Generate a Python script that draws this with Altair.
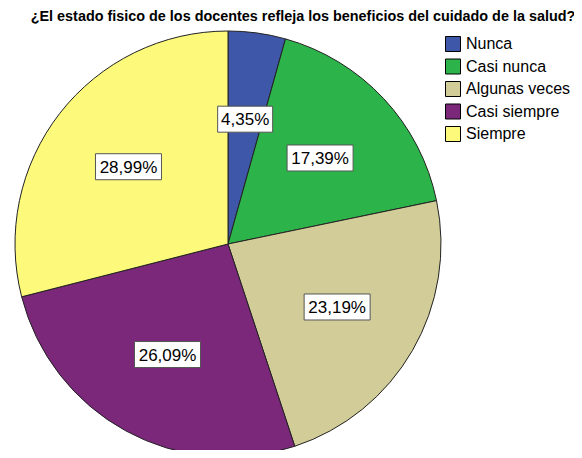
import altair as alt
import pandas as pd

categories = ["Nunca", "Casi nunca", "Algunas veces", "Casi siempre", "Siempre"]
percents = [4.35, 17.39, 23.19, 26.09, 28.99]
colors = ["#3F57A8", "#2CB34A", "#D2CD98", "#7B287B", "#FDF97B"]
title_text = "¿El estado fisico de los docentes refleja los beneficios del cuidado de la salud?"

df = pd.DataFrame({
    "cat": categories,
    "pct": percents,
    "order": list(range(len(categories))),
    "label": [f"{v:.2f}".replace(".", ",") + "%" for v in percents],
})

CX, CY, R, LR = 220, 236, 213, 126
FONT = "Liberation Sans"

base = alt.Chart(df)

pie = base.mark_arc(outerRadius=R, stroke="#222222", strokeWidth=1).encode(
    theta=alt.Theta("pct:Q", stack=True),
    order=alt.Order("order:Q", sort="ascending"),
    color=alt.Color(
        "cat:N",
        scale=alt.Scale(domain=categories, range=colors),
        sort=categories,
        legend=alt.Legend(
            title=None,
            orient="none",
            legendX=437,
            legendY=28,
            symbolType="square",
            symbolSize=225,
            symbolStrokeColor="#000000",
            symbolStrokeWidth=1,
            symbolOpacity=1,
            labelFont=FONT,
            labelFontSize=16,
            labelColor="#000000",
            labelOffset=5,
            rowPadding=2.5,
            padding=0,
        ),
    ),
    x=alt.value(CX),
    y=alt.value(CY),
)

pos = base.transform_window(
    cum="sum(pct)", sort=[alt.SortField("order")], frame=[None, 0]
).transform_joinaggregate(
    total="sum(pct)"
).transform_calculate(
    ang="(datum.cum - datum.pct/2) / datum.total * 2 * PI",
).transform_calculate(
    lx=f"{CX} + {LR} * sin(datum.ang)",
    ly=f"{CY} - {LR} * cos(datum.ang)",
).transform_calculate(
    bx1="datum.lx - 5.5 * length(datum.label)",
    bx2="datum.lx + 5.5 * length(datum.label)",
    by1="datum.ly - 13",
    by2="datum.ly + 13",
)

boxes = pos.mark_rect(fill="white", stroke="#555555", strokeWidth=1).encode(
    x=alt.X("bx1:Q", scale=None),
    x2="bx2:Q",
    y=alt.Y("by1:Q", scale=None),
    y2="by2:Q",
)

labels = pos.mark_text(
    font=FONT, fontSize=17, color="#000000", align="center", baseline="middle", dy=1
).encode(
    x=alt.X("lx:Q", scale=None),
    y=alt.Y("ly:Q", scale=None),
    text="label:N",
)

title = alt.Chart(pd.DataFrame({"t": [title_text]})).mark_text(
    font=FONT, fontSize=14.4, fontWeight="bold", color="#000000",
    align="center", baseline="alphabetic",
).encode(
    x=alt.value(295),
    y=alt.value(13),
    text="t:N",
)

chart = alt.layer(pie, boxes, labels, title).properties(
    width=566,
    height=442,
    padding=0,
    autosize=alt.AutoSizeParams(type="none"),
).configure_view(stroke=None)

chart.save("out.html", embed_options={"renderer": "svg", "actions": False})
